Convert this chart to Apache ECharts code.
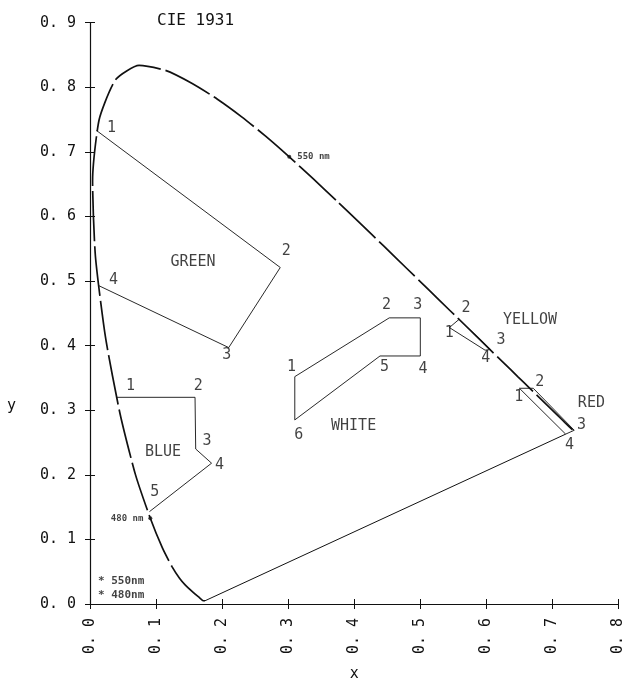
<!DOCTYPE html>
<html>
<head>
<meta charset="utf-8">
<script src="https://cdn.jsdelivr.net/npm/echarts@6/dist/echarts.min.js"></script>
<style>html,body{margin:0;padding:0;background:#fff;}#c{width:626px;height:687px;}</style>
</head>
<body>
<div id="c"></div>
<script>
// Spectral locus (x, y) read along the horseshoe, 380 nm -> 700 nm
const spectralLocus = [
  [0.1741,0.0050],[0.1714,0.0051],[0.1644,0.0109],[0.1566,0.0177],[0.1440,0.0297],
  [0.1355,0.0399],[0.1241,0.0578],[0.1096,0.0868],[0.0913,0.1327],[0.0687,0.2007],
  [0.0454,0.2950],[0.0235,0.4127],[0.0082,0.5384],[0.0039,0.6548],[0.0139,0.7502],
  [0.0389,0.8120],[0.0743,0.8338],[0.1142,0.8262],[0.1547,0.8059],[0.1929,0.7816],
  [0.2296,0.7543],[0.2658,0.7243],[0.3016,0.6923],[0.3373,0.6589],[0.3731,0.6245],
  [0.4087,0.5896],[0.4441,0.5547],[0.4788,0.5202],[0.5125,0.4866],[0.5448,0.4544],
  [0.5752,0.4242],[0.6029,0.3965],[0.6270,0.3725],[0.6482,0.3514],[0.6658,0.3340],
  [0.6915,0.3083],[0.7079,0.2920],[0.7190,0.2809],[0.7260,0.2740],[0.7347,0.2653]
];
const purpleLine = [[0.1741,0.0050],[0.720,0.263]];

const greenPts  = [[0.010,0.733],[0.288,0.521],[0.210,0.397],[0.013,0.493]];
const bluePts   = [[0.040,0.320],[0.159,0.320],[0.160,0.240],[0.184,0.218],[0.090,0.143]];
const whitePts  = [[0.310,0.352],[0.453,0.443],[0.500,0.443],[0.500,0.384],[0.439,0.384],[0.310,0.285],[0.310,0.352]];
const yellowPts = [[0.544,0.428],[0.559,0.441],[0.606,0.394],[0.598,0.393],[0.544,0.428]];
const redPts    = [[0.650,0.334],[0.671,0.334],[0.733,0.269],[0.720,0.263],[0.650,0.334]];

const greenLabels  = [[0.0325,0.7365,'1'],[0.297,0.5457,'2'],[0.207,0.3846,'3'],[0.0355,0.5015,'4'],[0.156,0.5297,'GREEN']];
const blueLabels   = [[0.0615,0.337,'1'],[0.164,0.338,'2'],[0.177,0.2528,'3'],[0.196,0.2158,'4'],[0.098,0.1734,'5'],[0.1105,0.2354,'BLUE']];
const whiteLabels  = [[0.305,0.3672,'1'],[0.449,0.462,'2'],[0.496,0.462,'3'],[0.504,0.3635,'4'],[0.446,0.3672,'5'],[0.316,0.262,'6'],[0.399,0.275,'WHITE']];
const yellowLabels = [[0.544,0.4195,'1'],[0.569,0.458,'2'],[0.622,0.408,'3'],[0.599,0.38,'4'],[0.666,0.439,'YELLOW']];
const redLabels    = [[0.649,0.321,'1'],[0.681,0.343,'2'],[0.744,0.277,'3'],[0.726,0.2466,'4'],[0.759,0.311,'RED']];

const wavelengthMarks = [[0.3016,0.6923,'550 nm'],[0.0913,0.1327,'480 nm']];
const keyLabels = [[0.012,0.035,'* 550nm'],[0.012,0.0135,'* 480nm']];

const xTicks = {min:0, max:0.8, interval:0.1};
const yTicks = {min:0, max:0.9, interval:0.1};

const FONT = '"DejaVu Sans Mono", monospace';
const INK = '#111';
const fmt = v => v.toFixed(1).replace('.', '. ');

function lineSeries(data, width, dash) {
  return {type:'line', data:data, symbol:'none', silent:true,
    lineStyle:{color:INK, width:width, type:dash||'solid'}, z:3};
}
function labelSeries(data) {
  return {type:'scatter', data:data, symbolSize:0, silent:true, clip:false,
    label:{show:true, position:'inside', formatter:p=>p.data[2], color:INK,
      fontFamily:FONT, fontSize:15}, z:5};
}

const chart = echarts.init(document.getElementById('c'));
chart.setOption({
  animation:false,
  backgroundColor:'#fff',
  title:{text:'CIE 1931', left:152, top:8,
    textStyle:{fontFamily:FONT, fontSize:16, fontWeight:'normal', color:INK}},
  grid:{left:90, right:2.3, top:22.7, bottom:79.3},
  graphic:[{type:'text', left:7, top:399, style:{text:'y', font:'15px "DejaVu Sans Mono"', fill:INK}}],
  xAxis:[
    {type:'value', min:xTicks.min, max:xTicks.max, interval:xTicks.interval,
     name:'x', nameLocation:'middle', nameGap:63,
     nameTextStyle:{fontFamily:FONT, fontSize:15, color:INK},
     axisLine:{lineStyle:{color:INK, width:1.2}},
     axisTick:{show:true, length:5, lineStyle:{color:INK}},
     splitLine:{show:false},
     axisLabel:{rotate:90, margin:14, formatter:fmt, fontFamily:FONT, fontSize:15, color:INK, showMaxLabel:true, showMinLabel:true}},
    {type:'value', min:xTicks.min, max:xTicks.max, interval:xTicks.interval, position:'bottom',
     axisLine:{show:false}, axisTick:{show:true, inside:true, length:5, lineStyle:{color:INK}},
     axisLabel:{show:false}, splitLine:{show:false}}
  ],
  yAxis:[
    {type:'value', min:yTicks.min, max:yTicks.max, interval:yTicks.interval,
     axisLine:{show:true, lineStyle:{color:INK, width:1.2}},
     axisTick:{show:true, length:5, lineStyle:{color:INK}},
     splitLine:{show:false},
     axisLabel:{margin:14, formatter:fmt, fontFamily:FONT, fontSize:15, color:INK}},
    {type:'value', min:yTicks.min, max:yTicks.max, interval:yTicks.interval, position:'left',
     axisLine:{show:false}, axisTick:{show:true, inside:true, length:5, lineStyle:{color:INK}},
     axisLabel:{show:false}, splitLine:{show:false}}
  ],
  series:[
    Object.assign(lineSeries(spectralLocus, 1.7, [50,5]), {smooth:0.2}),
    lineSeries(purpleLine, 1),
    lineSeries(greenPts, 0.9),
    lineSeries(bluePts, 0.9),
    lineSeries(whitePts, 0.9),
    lineSeries(yellowPts, 0.9),
    lineSeries(redPts, 0.9),
    labelSeries(greenLabels),
    labelSeries(blueLabels),
    labelSeries(whiteLabels),
    labelSeries(yellowLabels),
    labelSeries(redLabels),
    {type:'scatter', data:[wavelengthMarks[0]], symbol:'circle', symbolSize:4, silent:true,
     itemStyle:{color:INK}, label:{show:true, position:'right', distance:6, formatter:p=>p.data[2],
       fontFamily:FONT, fontSize:9, fontWeight:'bold', color:INK}, z:6},
    {type:'scatter', data:[wavelengthMarks[1]], symbol:'circle', symbolSize:4, silent:true,
     itemStyle:{color:INK}, label:{show:true, position:'left', distance:5, formatter:p=>p.data[2],
       fontFamily:FONT, fontSize:9, fontWeight:'bold', color:INK}, z:6},
    {type:'scatter', data:keyLabels, symbolSize:0, silent:true, clip:false,
     label:{show:true, position:'right', distance:0, formatter:p=>p.data[2],
       fontFamily:FONT, fontSize:11, fontWeight:'bold', color:INK}, z:6}
  ]
});
</script>
</body>
</html>
